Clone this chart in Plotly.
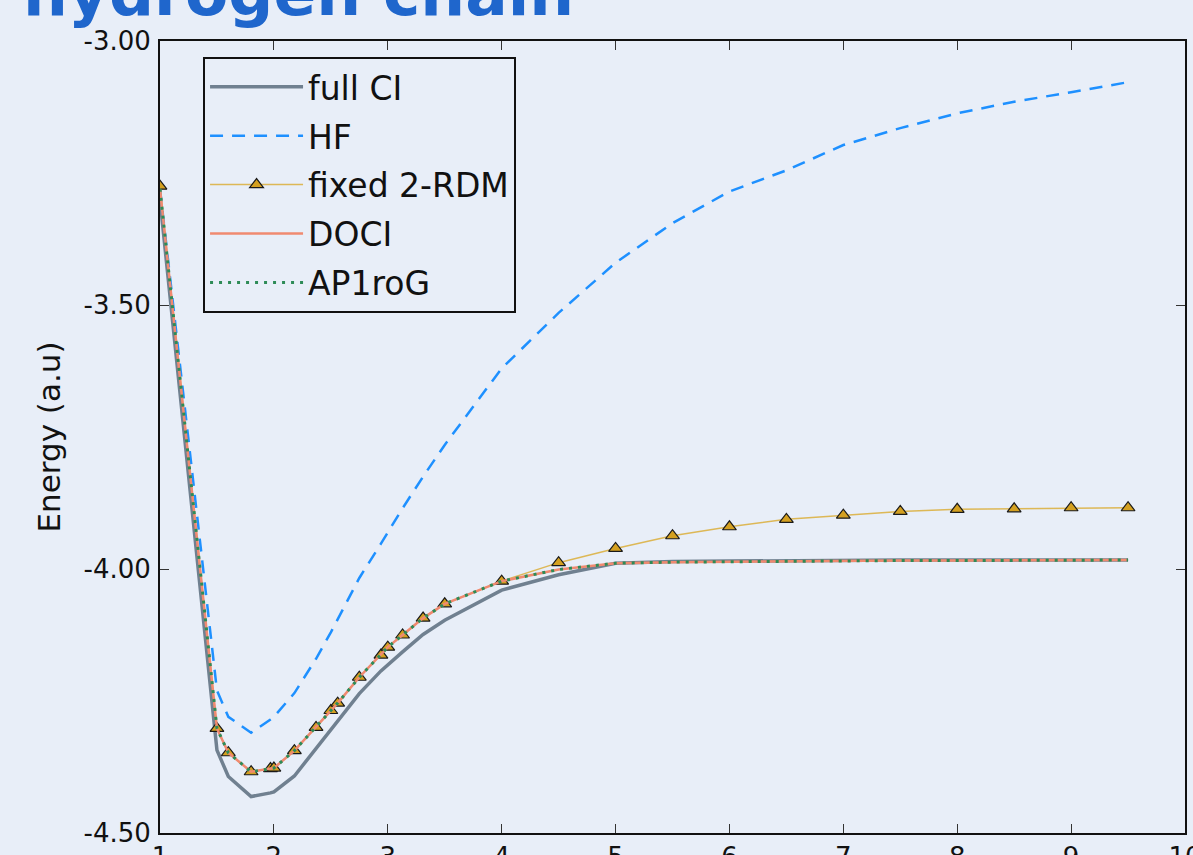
import plotly.graph_objects as go

# ---- data ----
x_grid = [1.0, 1.5, 1.6, 1.8, 1.97, 2.0, 2.18, 2.37, 2.5, 2.56, 2.75, 2.94, 3.0, 3.13, 3.31, 3.5,
          4.0, 4.5, 5.0, 5.5, 6.0, 6.5, 7.0, 7.5, 8.0, 8.5, 9.0, 9.5]

full_ci = [-3.30, -4.343, -4.393, -4.431, -4.424, -4.422, -4.392, -4.340, -4.305, -4.289, -4.236,
           -4.193, -4.181, -4.157, -4.124, -4.097, -4.040, -4.011, -3.989, -3.986, -3.985, -3.984,
           -3.984, -3.983, -3.983, -3.983, -3.983, -3.983]

hf = [-3.28, -4.23, -4.28, -4.31, -4.285, -4.28, -4.235, -4.17, -4.12, -4.095, -4.017, -3.952,
      -3.93, -3.885, -3.825, -3.765, -3.62, -3.515, -3.42, -3.345, -3.285, -3.245, -3.197, -3.165,
      -3.137, -3.115, -3.097, -3.078]

fixed_2rdm = [-3.275, -4.302, -4.348, -4.384, -4.378, -4.377, -4.344, -4.300, -4.268, -4.254,
              -4.205, -4.163, -4.148, -4.125, -4.093, -4.066, -4.023, -3.988, -3.961, -3.937,
              -3.920, -3.906, -3.898, -3.891, -3.887, -3.886, -3.884, -3.884]

doci = [-3.28, -4.302, -4.348, -4.384, -4.378, -4.377, -4.344, -4.300, -4.268, -4.254, -4.205,
        -4.163, -4.148, -4.125, -4.093, -4.066, -4.023, -4.001, -3.989, -3.987, -3.986, -3.985,
        -3.985, -3.984, -3.984, -3.984, -3.983, -3.983]

ap1rog = [-3.28, -4.302, -4.348, -4.384, -4.378, -4.377, -4.344, -4.300, -4.268, -4.254, -4.205,
          -4.163, -4.148, -4.125, -4.093, -4.066, -4.023, -4.001, -3.989, -3.987, -3.986, -3.985,
          -3.985, -3.984, -3.984, -3.984, -3.983, -3.983]

x_ticks = [1, 2, 3, 4, 5, 6, 7, 8, 9, 10]
y_ticks = [-3.0, -3.5, -4.0, -4.5]
y_tick_text = ["-3.00", "-3.50", "-4.00", "-4.50"]

title_text = "hydrogen chain"
y_title = "Energy (a.u)"

BG = "#e8eef8"
FONT = "DejaVu Sans"

fig = go.Figure()
fig.add_trace(go.Scatter(x=x_grid, y=full_ci, name="full CI", mode="lines",
                         line=dict(color="#708090", width=3.5), legendgroup="a"))
fig.add_trace(go.Scatter(x=x_grid, y=hf, name="HF", mode="lines",
                         line=dict(color="#1e90ff", width=2.5, dash="13px,9px"), legendgroup="b"))
fig.add_trace(go.Scatter(x=x_grid, y=fixed_2rdm, name="fixed 2-RDM", mode="lines+markers",
                         line=dict(color="rgba(218,165,32,0.75)", width=1.5),
                         marker=dict(symbol="triangle-up", size=12, color="#d4a020",
                                     line=dict(color="#1a1a1a", width=1.2)),
                         legendgroup="c"))
fig.add_trace(go.Scatter(x=x_grid, y=doci, name="DOCI", mode="lines",
                         line=dict(color="#f08a70", width=2.5), legendgroup="d"))
fig.add_trace(go.Scatter(x=x_grid, y=ap1rog, name="AP1roG", mode="lines",
                         line=dict(color="#2e8b57", width=3, dash="3px,6px"), legendgroup="e"))

axis_common = dict(
    showgrid=False, zeroline=False, showline=True, linecolor="#111111", linewidth=2,
    mirror="ticks", ticks="inside", ticklen=9, tickwidth=1, tickcolor="#333333",
    tickfont=dict(family=FONT, size=26, color="#111111"),
    automargin=False, ticklabeloverflow="allow",
)

fig.update_xaxes(range=[1, 10], tickvals=x_ticks, ticktext=[str(v) for v in x_ticks],
                 **axis_common)
fig.update_yaxes(range=[-4.5, -3.0], tickvals=y_ticks, ticktext=y_tick_text,
                 ticklabelstandoff=2,
                 title=dict(text=y_title, font=dict(family=FONT, size=31, color="#111111"),
                            standoff=14),
                 **axis_common)

fig.add_annotation(text="<b>" + title_text + "</b>", xref="paper", yref="paper",
                   x=-0.136, y=1.0597, xanchor="left", yanchor="middle", showarrow=False,
                   font=dict(family="DejaVu Sans", size=63, color="#1f66cc"))

fig.update_layout(
    width=1193, height=855,
    margin=dict(l=160, r=8, t=41, b=22, pad=0, autoexpand=False),
    paper_bgcolor=BG, plot_bgcolor=BG,
    font=dict(family=FONT, color="#111111"),
    showlegend=True,
    legend=dict(x=0.042, y=0.98, xanchor="left", yanchor="top",
                bgcolor=BG, bordercolor="#111111", borderwidth=2,
                font=dict(family=FONT, size=33, color="#111111"),
                tracegroupgap=3, itemwidth=93),
)

fig.write_html("out.html", config={"displayModeBar": False},
               post_script="document.body.style.margin='0';")
